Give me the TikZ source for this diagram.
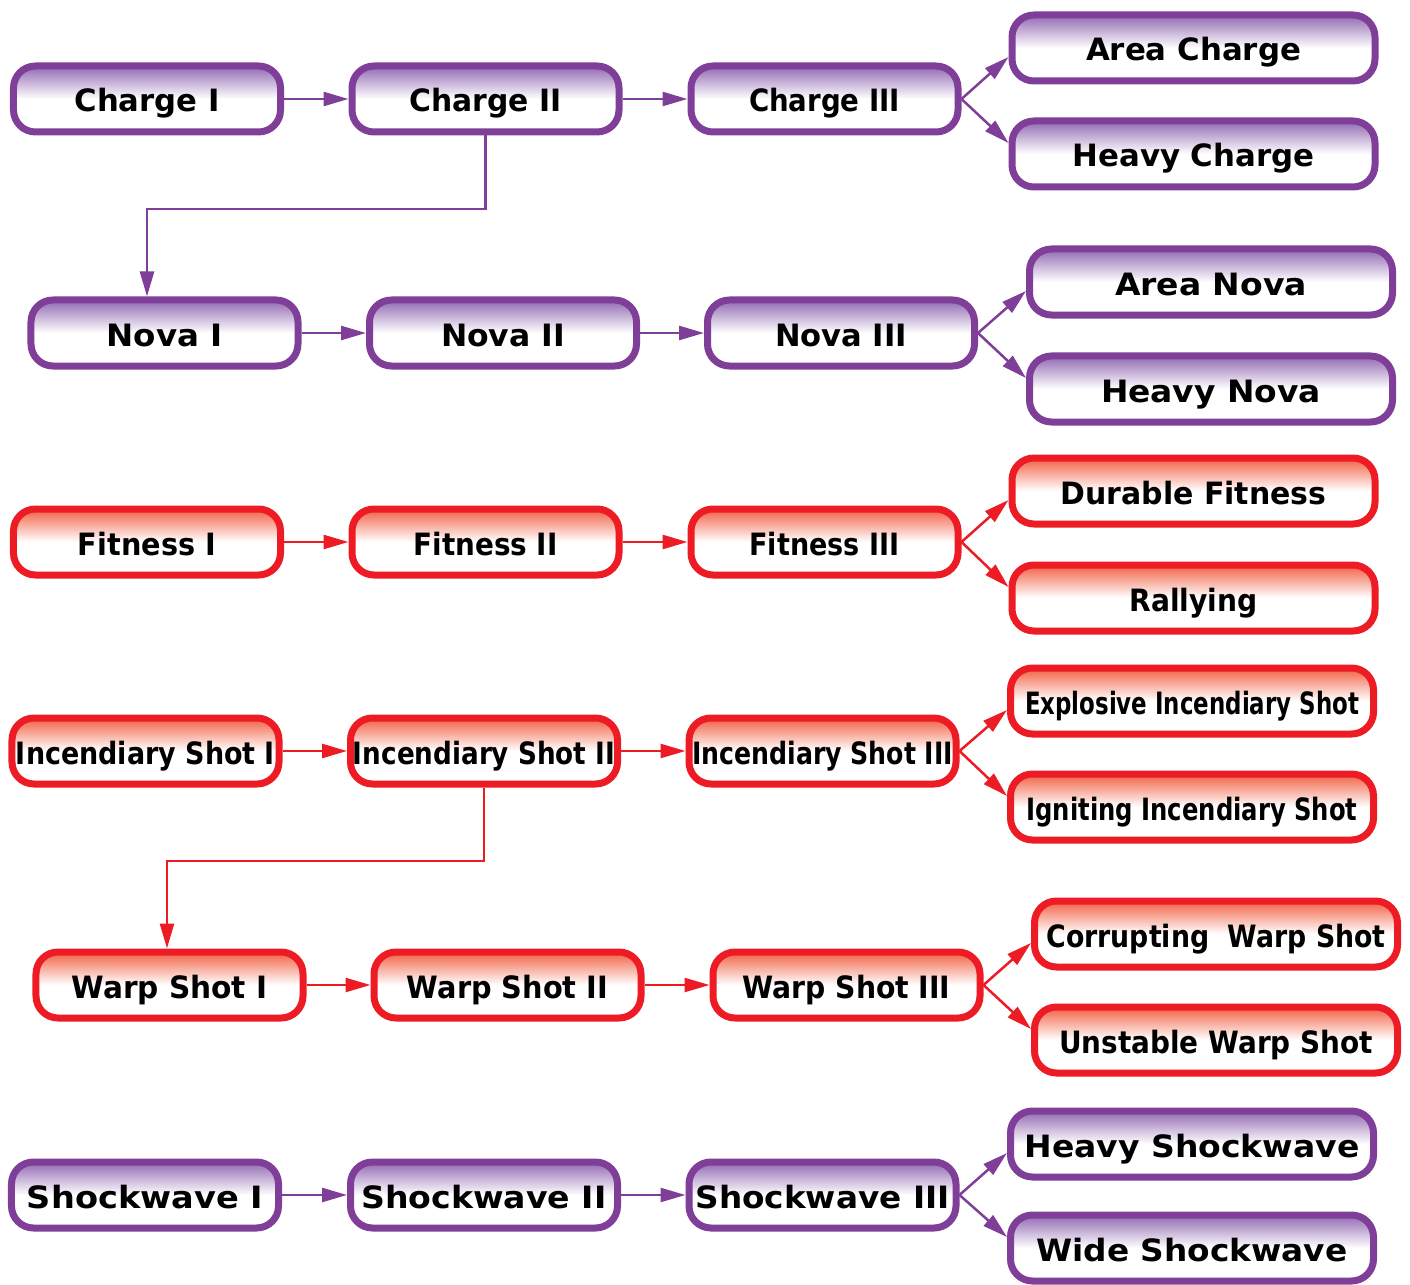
\documentclass[tikz,border=0pt]{standalone}
\usepackage{fontspec}
\setmainfont{DejaVu Sans}
\usepackage{graphicx}
\usetikzlibrary{arrows.meta}

\definecolor{purp}{RGB}{127,63,152}
\definecolor{purpfade}{RGB}{145,104,178}
\definecolor{redb}{RGB}{237,28,36}
\definecolor{redfade}{RGB}{242,96,68}

\newlength{\pxu}
\setlength{\pxu}{0.2mm}
% squeeze a label to a given width (in px)
\newcommand{\lab}[2]{\resizebox{#1\pxu}{\height}{#2}}

\tikzset{
  box/.style={rectangle,rounded corners=4.4mm,line width=1.4mm,
    minimum width=5.34cm,minimum height=1.32cm,inner sep=0pt,
    text height=5.2mm,text depth=0pt,
    font=\fontsize{17.5}{20}\selectfont\bfseries},
  pbox/.style={box,draw=purp,top color=purpfade,bottom color=white,middle color=white},
  rbox/.style={box,draw=redb,top color=redfade,bottom color=white,middle color=white},
  widebox/.style={minimum width=7.26cm},
  plink/.style={draw=purp,line width=0.5mm,-{Triangle[length=5mm,width=2.8mm]}},
  rlink/.style={draw=redb,line width=0.5mm,-{Triangle[length=5mm,width=2.8mm]}}
}

\begin{document}
\begin{tikzpicture}[x=0.2mm,y=-0.2mm]
\useasboundingbox (0,0) rectangle (1410,1285);

% charge
\node[pbox] (ch1) at (147,99) {\lab{145}{Charge I}};
\node[pbox] (ch2) at (485.5,99) {\lab{152}{Charge II}};
\node[pbox] (ch3) at (824.5,99) {\lab{151}{Charge III}};
\node[pbox,widebox] (ac) at (1193.5,48) {\lab{215}{Area Charge}};
\node[pbox,widebox] (hc) at (1193.5,154) {\lab{242}{Heavy Charge}};
\draw[plink] (ch1) -- (ch2);
\draw[plink] (ch2) -- (ch3);
\draw[plink] (ch3.east) -- ([yshift=-1.8mm]ac.west);
\draw[plink] (ch3.east) -- ([yshift=2.2mm]hc.west);

% nova
\node[pbox] (nv1) at (164.5,333) {\lab{116}{Nova I}};
\node[pbox] (nv2) at (503,333) {\lab{124}{Nova II}};
\node[pbox] (nv3) at (841,333) {\lab{132}{Nova III}};
\node[pbox,widebox] (an) at (1211,282) {\lab{192}{Area Nova}};
\node[pbox,widebox] (hn) at (1211,389) {\lab{220}{Heavy Nova}};
\coordinate (bend1) at (147,209);
\draw[plink] (ch2.south) |- (bend1) -- (bend1 |- nv1.north);
\draw[plink] (nv1) -- (nv2);
\draw[plink] (nv2) -- (nv3);
\draw[plink] (nv3.east) -- ([yshift=-1.8mm]an.west);
\draw[plink] (nv3.east) -- ([yshift=2.2mm]hn.west);

% fitness
\node[rbox] (ft1) at (147,542) {\lab{138}{Fitness I}};
\node[rbox] (ft2) at (485.5,542) {\lab{144}{Fitness II}};
\node[rbox] (ft3) at (824.5,542) {\lab{150}{Fitness III}};
\node[rbox,widebox] (df) at (1193.5,491) {\lab{266}{Durable Fitness}};
\node[rbox,widebox] (ra) at (1193.5,598) {\lab{128}{Rallying}};
\draw[rlink] (ft1) -- (ft2);
\draw[rlink] (ft2) -- (ft3);
\draw[rlink] (ft3.east) -- ([yshift=-1.8mm]df.west);
\draw[rlink] (ft3.east) -- ([yshift=2.2mm]ra.west);

% incendiary shot
\node[rbox] (ic1) at (145.5,751) {\lab{259}{Incendiary Shot I}};
\node[rbox] (ic2) at (484,751) {\lab{262}{Incendiary Shot II}};
\node[rbox] (ic3) at (822.5,751) {\lab{261}{Incendiary Shot III}};
\node[rbox,widebox] (ex) at (1192,701) {\lab{334}{Explosive Incendiary Shot}};
\node[rbox,widebox] (ig) at (1192,807) {\lab{331}{Igniting Incendiary Shot}};
\draw[rlink] (ic1) -- (ic2);
\draw[rlink] (ic2) -- (ic3);
\draw[rlink] (ic3.east) -- ([yshift=-1.8mm]ex.west);
\draw[rlink] (ic3.east) -- ([yshift=2.2mm]ig.west);

% warp shot
\node[rbox] (wp1) at (169.5,985) {\lab{196}{Warp Shot I}};
\node[rbox] (wp2) at (507.5,985) {\lab{201}{Warp Shot II}};
\node[rbox] (wp3) at (846.5,985) {\lab{208}{Warp Shot III}};
\node[rbox,widebox] (cw) at (1216,934) {\lab{339}{Corrupting\ \ Warp Shot}};
\node[rbox,widebox] (uw) at (1216,1040) {\lab{314}{Unstable Warp Shot}};
\coordinate (bend2) at (167,861);
\draw[rlink] (ic2.south) |- (bend2) -- (bend2 |- wp1.north);
\draw[rlink] (wp1) -- (wp2);
\draw[rlink] (wp2) -- (wp3);
\draw[rlink] (wp3.east) -- ([yshift=-1.8mm]cw.west);
\draw[rlink] (wp3.east) -- ([yshift=2.2mm]uw.west);

% shockwave
\node[pbox] (sw1) at (145,1195) {\lab{236}{Shockwave I}};
\node[pbox] (sw2) at (484,1195) {\lab{245}{Shockwave II}};
\node[pbox] (sw3) at (822.5,1195) {\lab{254}{Shockwave III}};
\node[pbox,widebox] (hs) at (1192,1144) {\lab{335}{Heavy Shockwave}};
\node[pbox,widebox] (ws) at (1192,1248) {\lab{311}{Wide Shockwave}};
\draw[plink] (sw1) -- (sw2);
\draw[plink] (sw2) -- (sw3);
\draw[plink] (sw3.east) -- ([yshift=-1.8mm]hs.west);
\draw[plink] (sw3.east) -- ([yshift=2.2mm]ws.west);
\end{tikzpicture}
\end{document}
